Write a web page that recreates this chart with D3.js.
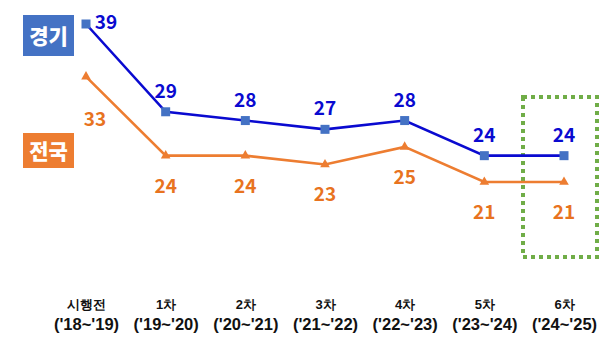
<!DOCTYPE html>
<html>
<head>
<meta charset="utf-8">
<script src="https://cdn.jsdelivr.net/npm/d3@7"></script>
<style>
  html, body { margin: 0; padding: 0; background: #fff; }
  svg { display: block; font-family: "Noto Sans CJK KR", "Noto Sans", sans-serif; }
</style>
</head>
<body>
<svg id="chart" width="608" height="340"></svg>
<script>
// Periods (two-line axis labels)
const periods = ["시행전", "1차", "2차", "3차", "4차", "5차", "6차"];
const years = ["('18~'19)", "('19~'20)", "('20~'21)", "('21~'22)", "('22~'23)", "('23~'24)", "('24~'25)"];

// Series values
const gyeonggi = [39, 29, 28, 27, 28, 24, 24];
const national = [33, 24, 24, 23, 25, 21, 21];

const seriesNames = ["경기", "전국"];

const svg = d3.select("#chart");

const x = d3.scalePoint().domain(periods).range([86, 564]);
const y = d3.scaleLinear().domain([21, 39]).range([182, 24]);

const BLUE_LINE = "#0a0ad0";
const BLUE_MARK = "#4472c4";
const ORANGE = "#ed7d31";
const ORANGE_TEXT = "#e8731f";

// Highlight box around the latest period
const last = periods[periods.length - 1];
svg.append("rect")
  .attr("x", x(last) - 41)
  .attr("y", 97)
  .attr("width", 74)
  .attr("height", 160)
  .attr("fill", "none")
  .attr("stroke", "#70ad47")
  .attr("stroke-width", 4)
  .attr("stroke-dasharray", "4 4");

const line = d3.line().x((d, i) => x(periods[i])).y(d => y(d));

// National series
svg.append("path").datum(national)
  .attr("d", line).attr("fill", "none")
  .attr("stroke", ORANGE).attr("stroke-width", 2.6);
svg.selectAll(".tri").data(national).join("path")
  .attr("class", "tri")
  .attr("d", d3.symbol().type(d3.symbolTriangle).size(40))
  .attr("transform", (d, i) => `translate(${x(periods[i])},${y(d)})`)
  .attr("fill", ORANGE);
svg.selectAll(".nlab").data(national).join("text")
  .attr("class", "nlab")
  .attr("x", (d, i) => x(periods[i]) + (i === 0 ? 9 : 0))
  .attr("y", (d, i) => y(d) + (i === 0 ? 49 : 37))
  .attr("text-anchor", "middle")
  .attr("font-size", 19).attr("font-weight", 700)
  .attr("fill", ORANGE_TEXT)
  .text(d => d);

// Gyeonggi series
svg.append("path").datum(gyeonggi)
  .attr("d", line).attr("fill", "none")
  .attr("stroke", BLUE_LINE).attr("stroke-width", 2.6);
svg.selectAll(".sq").data(gyeonggi).join("rect")
  .attr("class", "sq")
  .attr("x", (d, i) => x(periods[i]) - 4.5)
  .attr("y", d => y(d) - 4.5)
  .attr("width", 9).attr("height", 9)
  .attr("fill", BLUE_MARK);
svg.selectAll(".glab").data(gyeonggi).join("text")
  .attr("class", "glab")
  .attr("x", (d, i) => x(periods[i]) + (i === 0 ? 20 : 0))
  .attr("y", (d, i) => y(d) + (i === 0 ? 5 : -14))
  .attr("text-anchor", "middle")
  .attr("font-size", 19).attr("font-weight", 700)
  .attr("fill", BLUE_LINE)
  .text(d => d);

// Series name badges
const badges = [
  { name: seriesNames[0], color: BLUE_MARK, y: 15, h: 41 },
  { name: seriesNames[1], color: ORANGE, y: 133, h: 35 }
];
badges.forEach(b => {
  svg.append("rect").attr("x", 23).attr("y", b.y).attr("width", 51).attr("height", b.h).attr("fill", b.color);
  svg.append("text").attr("x", 48.5).attr("y", b.y + b.h / 2 + 8)
    .attr("text-anchor", "middle").attr("font-size", 21).attr("font-weight", 900)
    .attr("fill", "#fff").text(b.name);
});

// X axis with two-line labels
const axis = svg.append("g").attr("transform", "translate(0,288)")
  .call(d3.axisBottom(x).tickSize(0).tickFormat(""));
axis.select(".domain").remove();
axis.selectAll(".tick").each(function (d, i) {
  const t = d3.select(this).append("text")
    .attr("text-anchor", "middle").attr("fill", "#111")
    .attr("font-weight", 700);
  t.append("tspan").attr("x", 0).attr("y", 21).attr("font-size", 13).text(periods[i]);
  t.append("tspan").attr("x", 0).attr("y", 42).attr("font-size", 16.5).text(years[i]);
});
</script>
</body>
</html>
